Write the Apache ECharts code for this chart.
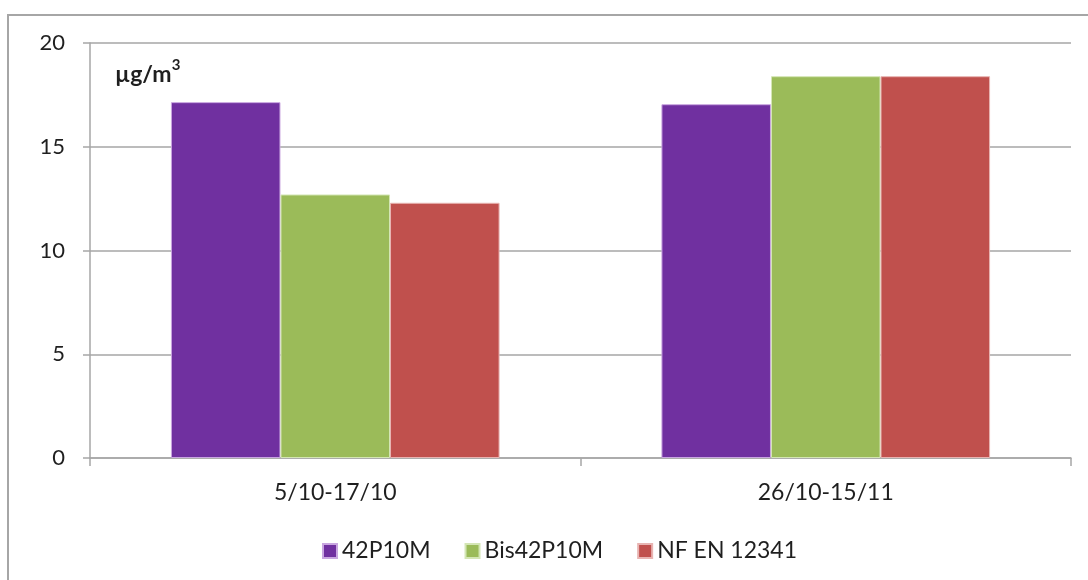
<!DOCTYPE html>
<html>
<head>
<meta charset="utf-8">
<script src="https://cdn.jsdelivr.net/npm/echarts@6/dist/echarts.min.js"></script>
<style>
  html, body { margin: 0; padding: 0; background: #fff; }
  #chart { width: 1088px; height: 580px; }
</style>
</head>
<body>
<div id="chart"></div>
<script>
// Sampling periods and measured concentrations (µg/m³)
const categories = ['5/10-17/10', '26/10-15/11'];
const seriesNames = ['42P10M', 'Bis42P10M', 'NF EN 12341'];
const values42P10M = [17.15, 17.05];
const valuesBis42P10M = [12.7, 18.4];
const valuesNFEN12341 = [12.3, 18.4];
const yTicks = [0, 5, 10, 15, 20];

const colors = ['#7030A0', '#9BBB59', '#C0504D'];
const edges = ['#c9a6e0', '#d4e6b5', '#e8b4b2'];
const font = 'Lato, "Open Sans", sans-serif';
const gray = '#a6a6a6';
const textColor = '#1f1f1f';

const chart = echarts.init(document.getElementById('chart'), null, { renderer: 'canvas' });

const dataSets = [values42P10M, valuesBis42P10M, valuesNFEN12341];

chart.setOption({
  animation: false,
  backgroundColor: '#ffffff',
  color: colors,
  graphic: [
    {
      type: 'rect',
      shape: { x: 8, y: 15, width: 1100, height: 600 },
      style: { fill: 'none', stroke: gray, lineWidth: 2 },
      z: 0
    },
    {
      type: 'text',
      left: 115,
      top: 58,
      style: {
        text: '{b|µg/m}{s|3}',
        rich: {
          b: { font: 'bold 23px ' + font, fill: textColor, lineHeight: 28, verticalAlign: 'bottom' },
          s: { font: 'bold 15px ' + font, fill: textColor, lineHeight: 17, verticalAlign: 'top' }
        }
      }
    }
  ],
  grid: { left: 90, right: 17, top: 43, bottom: 122, containLabel: false },
  legend: {
    data: seriesNames,
    top: 539,
    left: 322,
    padding: 0,
    itemWidth: 14,
    itemHeight: 14,
    itemGap: 34,
    icon: 'rect',
    textStyle: { fontFamily: font, fontSize: 23, lineHeight: 24, color: textColor }
  },
  xAxis: {
    type: 'category',
    data: categories,
    axisLine: { lineStyle: { color: gray, width: 1.5 } },
    axisTick: { show: true, length: 8, lineStyle: { color: gray, width: 1.5 } },
    axisLabel: { margin: 23, fontFamily: font, fontSize: 23, color: textColor }
  },
  yAxis: {
    type: 'value',
    min: yTicks[0],
    max: yTicks[yTicks.length - 1],
    interval: 5,
    axisLine: { show: true, lineStyle: { color: gray, width: 1.5 } },
    axisTick: { show: true, length: 7, lineStyle: { color: gray, width: 1.5 } },
    axisLabel: { margin: 25, fontFamily: font, fontSize: 22, color: textColor },
    splitLine: { lineStyle: { color: gray, width: 1.5 } }
  },
  series: seriesNames.map((name, i) => ({
    name: name,
    type: 'bar',
    data: dataSets[i],
    barGap: '0%',
    barCategoryGap: '33%',
    itemStyle: { color: colors[i], borderColor: edges[i], borderWidth: 1 }
  }))
});
</script>
</body>
</html>
